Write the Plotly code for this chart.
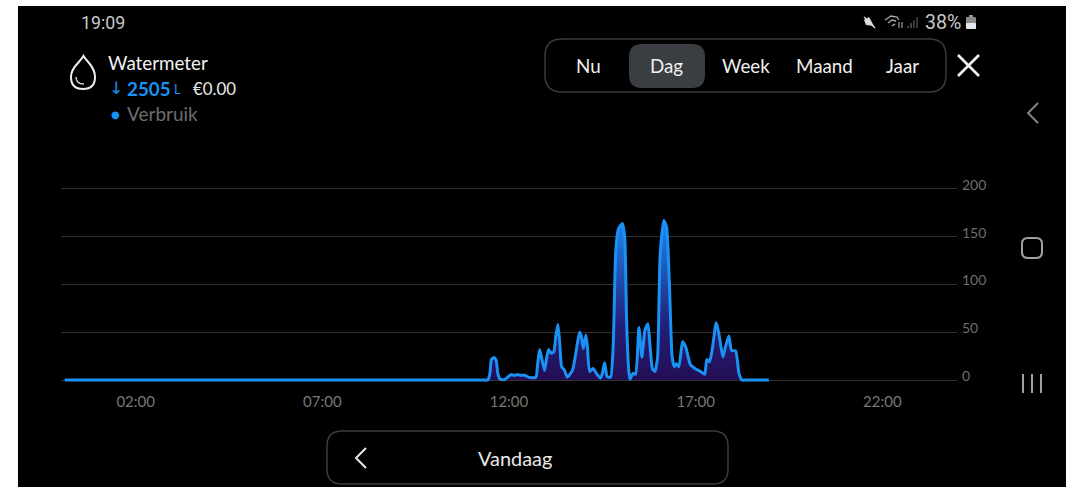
import plotly.graph_objects as go

W, H = 1066, 487

hours = [0.1, 0.2, 11.2, 11.32, 11.43, 11.49, 11.53, 11.60, 11.66, 11.70, 11.76, 11.87, 11.96, 12.05, 12.14, 12.23, 12.32, 12.42,
         12.54, 12.72, 12.76, 12.82, 12.87, 12.95, 13.00, 13.06, 13.13, 13.20, 13.25, 13.31, 13.36, 13.41,
         13.49, 13.56, 13.70, 13.79, 13.89, 13.93, 13.99, 14.06, 14.10, 14.16, 14.25, 14.34, 14.45, 14.50,
         14.56, 14.63, 14.72, 14.79, 14.86, 14.93, 15.04, 15.10, 15.15, 15.20, 15.24, 15.32, 15.39, 15.48,
         15.56, 15.64, 15.72, 15.78, 15.84, 15.91, 15.98, 16.05, 16.15, 16.22, 16.30, 16.37, 16.43, 16.48,
         16.55, 16.65, 16.73, 16.86, 17.00, 17.13, 17.24, 17.30, 17.37, 17.44, 17.55, 17.62, 17.73, 17.80,
         17.89, 17.96, 18.07, 18.16, 18.24, 18.34, 18.45, 18.85, 18.96]
liters = [0, 0, 0, 0, 0, 7, 21.5, 23.6, 20, 7, 1, 0.3, 2.8, 5.5, 5, 5.5, 5, 5,
          2.8, 2.8, 14, 32, 24, 10, 21, 32, 28, 29.5, 45, 58, 38, 14,
          10, 3, 10, 28, 50, 47, 33, 47, 35, 9, 12, 7, 2, 7,
          18, 3.5, 3, 35, 135, 158, 164, 149, 62, 14, 0.7, 7, 6, 55,
          24, 52, 59, 35, 12, 9, 24, 132, 167, 160, 97, 24, 14, 17,
          14, 40, 35, 16, 11.5, 9, 6, 21.5, 19, 31, 60, 49, 24, 35,
          46, 31, 30.5, 7, 0, 0, 0, 0, 0]
x_tick_vals = [2, 7, 12, 17, 22]
x_tick_text = ["02:00", "07:00", "12:00", "17:00", "22:00"]
y_tick_vals = [0, 50, 100, 150, 200]
tab_labels = ["Nu", "Dag", "Week", "Maand", "Jaar"]

BLUE = "#1a92f5"
FONT = "Lato"


def px(x):
    return x / W


def py(y):
    return 1 - y / H


def path_shape(points, color=None, width=2, fill=None, closed=False, curve=False):
    d = f"M {px(points[0][0]):.5f} {py(points[0][1]):.5f} "
    if curve:
        rest = points[1:]
        for i in range(0, len(rest), 2):
            a, b = rest[i], rest[i + 1]
            d += f"Q {px(a[0]):.5f} {py(a[1]):.5f} {px(b[0]):.5f} {py(b[1]):.5f} "
    else:
        d += " ".join(f"L {px(a):.5f} {py(b):.5f}" for a, b in points[1:])
    if closed:
        d += " Z"
    return dict(type="path", xref="paper", yref="paper", path=d, layer="above",
                line=dict(color=color or "rgba(0,0,0,0)", width=width if color else 0),
                fillcolor=fill or "rgba(0,0,0,0)")


def round_rect(x0, y0, x1, y1, r, color=None, width=1.5, fill=None):
    pts = [(x0 + r, y0), (x1 - r, y0), (x1 - r, y0), (x1, y0), (x1, y0 + r), (x1, y1 - r), (x1, y1 - r), (x1, y1), (x1 - r, y1),
           (x0 + r, y1), (x0 + r, y1), (x0, y1), (x0, y1 - r), (x0, y0 + r), (x0, y0 + r), (x0, y0), (x0 + r, y0)]
    return path_shape(pts, color, width, fill, True, True)


def text(s, x, y, size, color, anchor="left", font=FONT):
    return dict(text=s, xref="paper", yref="paper", x=px(x), y=py(y), showarrow=False, xanchor=anchor, yanchor="middle",
                font=dict(family=font, size=size, color=color), borderpad=0, borderwidth=0)


shapes = [
    dict(type="rect", xref="paper", yref="paper", x0=px(18), x1=1, y0=0, y1=py(6), fillcolor="#000000",
         line=dict(width=0), layer="below"),
    round_rect(545, 39, 946, 92, 17, "#3a3a3a", 1.5),
    round_rect(629, 44, 705, 88, 13, None, 0, "#3a3d42"),
    round_rect(327, 431, 728, 484, 15, "#3c3c3c", 1.5),
    path_shape([(958, 55), (979, 76)], "#f2f2f2", 2.6),
    path_shape([(979, 55), (958, 76)], "#f2f2f2", 2.6),
    path_shape([(366, 448), (356, 458), (366, 468)], "#e8e8e8", 2),
    path_shape([(1038, 103), (1028, 113), (1038, 123)], "#8a8a8a", 1.8),
    round_rect(1022, 238, 1042, 258, 6, "#a0a0a0", 2),
    path_shape([(1023, 374), (1023, 393)], "#a0a0a0", 2),
    path_shape([(1032, 374), (1032, 393)], "#a0a0a0", 2),
    path_shape([(1041, 374), (1041, 393)], "#a0a0a0", 2),
    # water drop icon
    path_shape([(83.5, 56), (83, 57), (78, 63), (71, 70), (71, 77), (71, 89), (83, 89), (95, 89), (95, 77), (95, 70), (89, 63),
                (84, 57), (83.5, 56)], "#f0f0f0", 2, None, True, True),
    path_shape([(76, 77), (76, 84), (84, 84)], "#d8d8d8", 1.4, None, False, True),
    # battery
    round_rect(969, 15, 973, 18, 0.5, None, 0, "#9a9a9a"),
    round_rect(966, 17, 976, 29, 1, None, 0, "#8a8a8a"),
    round_rect(966, 23, 976, 29, 1, None, 0, "#e8e8e8"),
    # status icons
    path_shape([(864, 20), (869, 17), (874, 26), (866, 25)], None, 0, "#dddddd", True),
    path_shape([(864, 17), (875, 28)], "#dddddd", 1.4),
    path_shape([(885, 20), (891, 16), (897, 17), (899, 20)], "#a8a8a8", 1.3),
    path_shape([(888, 23), (892, 20), (896, 21)], "#a8a8a8", 1.3),
    path_shape([(892, 26), (895, 24)], "#bbbbbb", 1.4),
    path_shape([(899, 22), (899, 28)], "#bbbbbb", 1),
    path_shape([(902, 22), (902, 28)], "#bbbbbb", 1),
    path_shape([(908, 26), (908, 28)], "#888888", 1),
    path_shape([(911, 23), (911, 28)], "#888888", 1),
    path_shape([(914, 20), (914, 28)], "#666666", 1),
    path_shape([(917, 17), (917, 28)], "#666666", 1),
]

annotations = [
    text("19:09", 81, 22.5, 17.8, "#c8c8c8", font="Roboto"),
    text("38%", 925, 22.5, 19.5, "#c8c8c8", font="Roboto"),
    text("Watermeter", 108, 62.5, 18.8, "#f2f2f2"),
    text("↓", 109, 88, 17, BLUE, font="DejaVu Sans"),
    text("<b>2505</b>", 127, 88, 18.8, BLUE),
    text("L", 174, 89, 13, BLUE),
    text("€0.00", 193, 88, 16.8, "#e8e8e8"),
    text("●", 111, 114.5, 10, BLUE, font="DejaVu Sans"),
    text("Verbruik", 127, 113.5, 19, "#6d6d6d"),
    text("Vandaag", 515, 458, 19.9, "#e8e8e8", "center"),
]
for label, cx in zip(tab_labels, [588, 666, 746, 824, 902]):
    annotations.append(text(label, cx, 65.5, 18.8, "#f0f0f0", "center"))

fig = go.Figure()
fig.add_trace(go.Scatter(
    x=hours, y=liters, mode="lines", cliponaxis=False, showlegend=False, hoverinfo="skip",
    line=dict(color=BLUE, width=3, shape="spline", smoothing=0.55),
    fill="tozeroy",
    fillgradient=dict(type="vertical", colorscale=[[0, "#230e55"], [0.35, "#241f78"], [0.7, "#1f57b8"], [1, "#1b86ee"]]),
))
fig.add_trace(go.Scatter(x=[None], y=[None], yaxis="y2", showlegend=False, hoverinfo="skip"))

fig.update_layout(
    template="none",
    width=W, height=H, autosize=False,
    margin=dict(l=0, r=0, t=0, b=0, pad=0, autoexpand=False),
    paper_bgcolor="#ffffff", plot_bgcolor="rgba(0,0,0,0)",
    shapes=shapes, annotations=annotations,
    font=dict(family=FONT),
    xaxis=dict(domain=[px(61), px(957)], range=[0, 24], tickvals=x_tick_vals, ticktext=x_tick_text, showgrid=False,
               zeroline=False, showline=False, ticks="", ticklabelstandoff=1, automargin=False,
               tickfont=dict(family=FONT, size=15, color="#777777"), anchor="y", fixedrange=True),
    yaxis=dict(domain=[py(389.57), py(179.43)], range=[-10, 210], tickvals=y_tick_vals, showticklabels=False,
               gridcolor="#303030", gridwidth=1, zeroline=False, showline=False, ticks="", fixedrange=True,
               automargin=False),
    yaxis2=dict(domain=[py(385.57), py(175.43)], range=[-10, 210], tickvals=y_tick_vals, side="right",
                anchor="x", showgrid=False, zeroline=False, showline=False, ticks="", ticklabelstandoff=4,
                tickfont=dict(family=FONT, size=14, color="#6e6e6e"), fixedrange=True, automargin=False),
)

fig.write_html("out.html", config=dict(displayModeBar=False),
               post_script="document.body.style.margin='0';document.body.style.overflow='hidden';")
